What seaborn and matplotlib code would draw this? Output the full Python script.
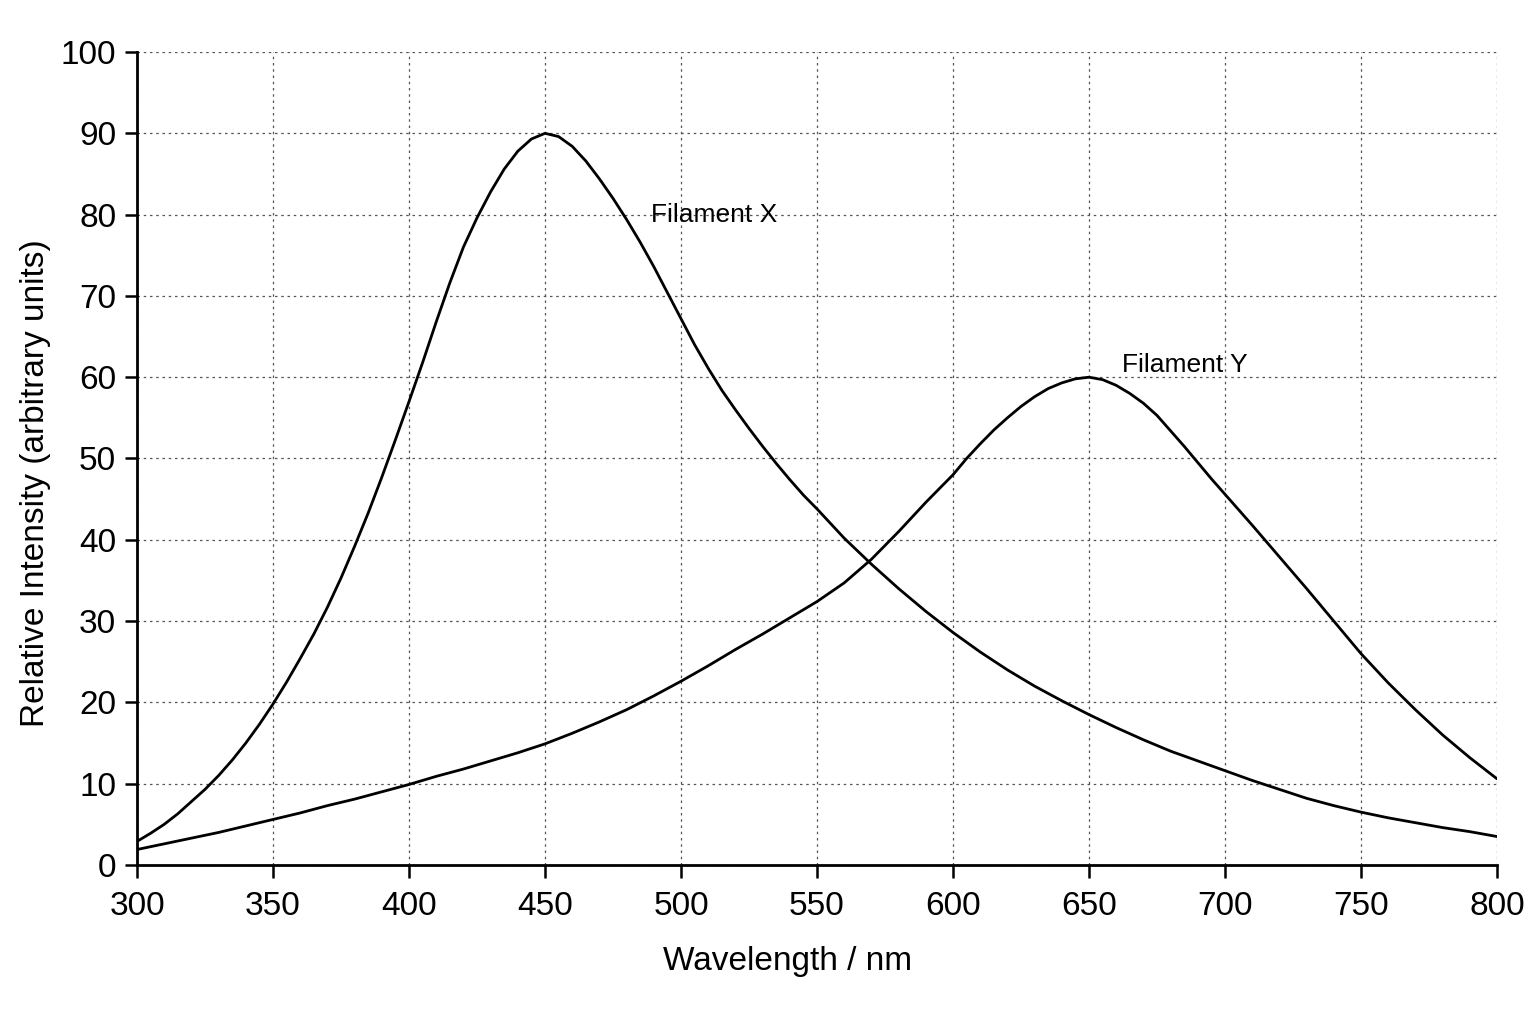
import numpy as np
import pandas as pd
import matplotlib.pyplot as plt
import seaborn as sns

# intensities (finer steps where the curves bend most)
wavelength_x = list(range(300, 550, 5)) + list(range(550, 801, 10))
filament_x = [2.9, 3.9, 5.0, 6.3, 7.8, 9.3, 11.0, 12.9, 15.0, 17.3,
              19.8, 22.5, 25.4, 28.4, 31.7, 35.3, 39.2, 43.3, 47.7, 52.3,
              57.0, 61.8, 66.8, 71.6, 76.0, 79.6, 82.8, 85.6, 87.8, 89.3,
              90.0, 89.6, 88.4, 86.6, 84.4, 82.0, 79.4, 76.6, 73.6, 70.4,
              67.2, 64.0, 61.1, 58.4, 56.0, 53.7, 51.5, 49.4, 47.4, 45.5,
              43.8, 40.2, 37.0, 34.0, 31.2, 28.6, 26.2, 24.0, 22.0, 20.2,
              18.5, 16.9, 15.4, 14.0, 12.8, 11.6, 10.4, 9.3, 8.2, 7.3,
              6.5, 5.8, 5.2, 4.6, 4.1, 3.5]

wavelength_y = list(range(300, 600, 10)) + list(range(600, 700, 5)) + list(range(700, 801, 10))
filament_y = [1.9, 2.6, 3.3, 4.0, 4.8, 5.6, 6.4, 7.3, 8.1, 9.0,
              9.9, 10.9, 11.8, 12.8, 13.8, 14.9, 16.2, 17.6, 19.1, 20.8,
              22.6, 24.5, 26.5, 28.4, 30.4, 32.4, 34.7, 37.6, 41.0, 44.6,
              48.0, 50.0, 51.8, 53.5, 55.0, 56.4, 57.6, 58.6, 59.3, 59.8,
              60.0, 59.7, 59.0, 58.0, 56.8, 55.3, 53.4, 51.5, 49.5, 47.5,
              45.6, 41.8, 37.9, 34.0, 30.0, 26.0, 22.4, 19.1, 16.0, 13.2, 10.6]

df = pd.DataFrame({
    "wavelength": wavelength_x + wavelength_y,
    "intensity": filament_x + filament_y,
    "filament": ["Filament X"] * len(wavelength_x) + ["Filament Y"] * len(wavelength_y),
})

sns.set_theme(style="white")
plt.rcParams['font.family'] = ['Liberation Sans Narrow', 'Liberation Sans', 'DejaVu Sans']
plt.rcParams['text.color'] = 'black'
plt.rcParams['axes.labelcolor'] = 'black'
plt.rcParams['xtick.color'] = 'black'
plt.rcParams['ytick.color'] = 'black'

fig = plt.figure(figsize=(15.36, 10.24), dpi=100)
ax = fig.add_axes([0.0892, 0.1553, 0.8854, 0.7939])

sns.lineplot(data=df, x="wavelength", y="intensity", hue="filament",
             palette=["black", "black"], linewidth=2, legend=False, ax=ax)

ax.set_xlim(300, 800)
ax.set_ylim(0, 100)
ax.set_xticks(range(300, 801, 50))
ax.set_yticks(range(0, 101, 10))
ax.grid(True, linestyle=(0, (2, 3)), color="#555555", linewidth=0.9)
ax.set_axisbelow(True)

for side in ["top", "right"]:
    ax.spines[side].set_visible(False)
for side in ["left", "bottom"]:
    ax.spines[side].set_color("black")
    ax.spines[side].set_linewidth(2)

ax.tick_params(axis="both", direction="out", length=9, width=1.8,
               color="black", labelcolor="black", labelsize=24,
               bottom=True, left=True)
ax.tick_params(axis="x", pad=10)
ax.tick_params(axis="y", pad=6)

ax.set_xlabel("Wavelength / nm", fontsize=24)
ax.xaxis.set_label_coords(0.478, -0.100)
ax.set_ylabel("Relative Intensity (arbitrary units)", fontsize=24)
ax.yaxis.set_label_coords(-0.063, 0.47)

ax.text(489, 80, "Filament X", fontsize=19, va="center", ha="left")
ax.text(662, 61.5, "Filament Y", fontsize=19, va="center", ha="left")

fig.savefig("out.png", dpi=100, facecolor="white")
